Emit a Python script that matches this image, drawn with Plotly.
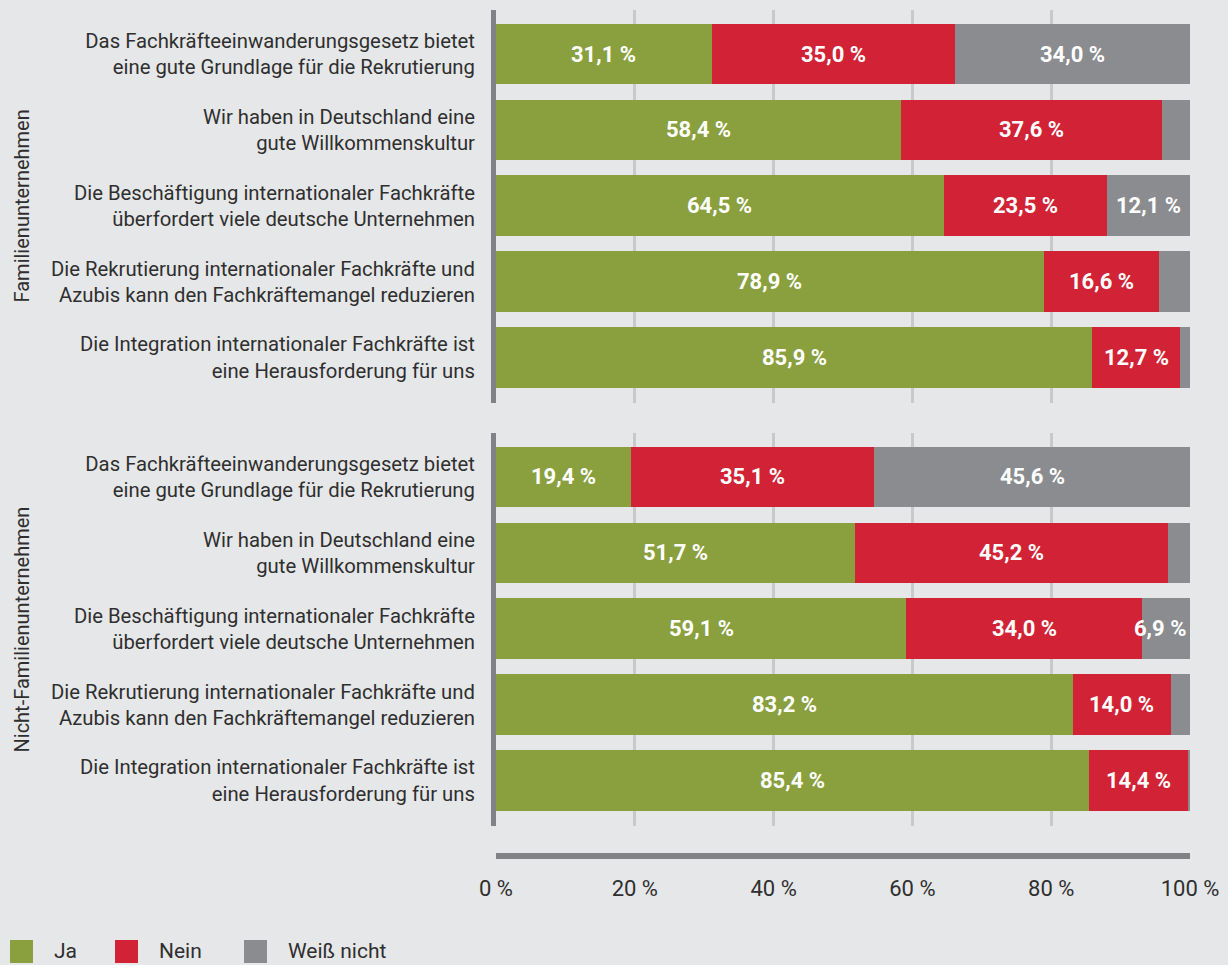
import plotly.graph_objects as go

# Survey statements (two lines each)
statements = [
    "Das Fachkräfteeinwanderungsgesetz bietet<br>eine gute Grundlage für die Rekrutierung",
    "Wir haben in Deutschland eine<br>gute Willkommenskultur",
    "Die Beschäftigung internationaler Fachkräfte<br>überfordert viele deutsche Unternehmen",
    "Die Rekrutierung internationaler Fachkräfte und<br>Azubis kann den Fachkräftemangel reduzieren",
    "Die Integration internationaler Fachkräfte ist<br>eine Herausforderung für uns",
]

groups = ["Familienunternehmen", "Nicht-Familienunternehmen"]

# Shares in percent per group: Ja / Nein / Weiß nicht
ja_family = [31.1, 58.4, 64.5, 78.9, 85.9]
nein_family = [35.0, 37.6, 23.5, 16.6, 12.7]
wn_family = [34.0, 4.0, 12.1, 4.5, 1.4]

ja_nonfamily = [19.4, 51.7, 59.1, 83.2, 85.4]
nein_nonfamily = [35.1, 45.2, 34.0, 14.0, 14.4]
wn_nonfamily = [45.6, 3.1, 6.9, 2.8, 0.2]

answers = ["Ja", "Nein", "Weiß nicht"]
colors = ["#8aa03e", "#d22235", "#8b8c8f"]

x_ticks = [0, 20, 40, 60, 80, 100]
x_ticklabels = ["0 %", "20 %", "40 %", "60 %", "80 %", "100 %"]

BG = "#e6e7e9"
FONT = "Roboto, sans-serif"
TEXT = "#2f2f2f"
MIN_LABEL = 6.0

W, H = 1228, 965
L, R = 496, 38
PW = W - L - R


def py(px):
    """Pixel row (from top) to paper y."""
    return 1 - px / H


def px_x(px):
    """Pixel column (from left) to paper x."""
    return (px - L) / PW


domains = [(py(403), py(10)), (py(826), py(433))]
data = [
    [ja_family, nein_family, wn_family],
    [ja_nonfamily, nein_nonfamily, wn_nonfamily],
]

fig = go.Figure()
annotations = []
shapes = []
cats = list(range(len(statements)))

for g, series in enumerate(data):
    xa = "x" if g == 0 else "x2"
    ya = "y" if g == 0 else "y2"
    for k, vals in enumerate(series):
        fig.add_trace(go.Bar(
            y=cats, x=vals, orientation="h", name=answers[k],
            marker=dict(color=colors[k], line=dict(width=0)),
            xaxis=xa, yaxis=ya, showlegend=False, hoverinfo="skip",
        ))
    # value labels centred in each segment
    for i in cats:
        start = 0.0
        for k, vals in enumerate(series):
            v = vals[i]
            if v >= MIN_LABEL:
                txt = f"{v:.1f}".replace(".", ",") + " %"
                ann = dict(x=start + v / 2, y=i, xref=xa, yref=ya, text=txt,
                           showarrow=False,
                           font=dict(family=FONT, size=22, color="white", weight="bold"))
                if start + v > 99 and v < 10:
                    ann.update(x=100, xanchor="right", xshift=-2)
                annotations.append(ann)
            start += v

axis_common = dict(range=[0, 100], tickvals=x_ticks, showgrid=True,
                   gridcolor="#c8c9cb", gridwidth=3, zeroline=False,
                   fixedrange=True, ticks="")
fig.update_layout(
    xaxis=dict(axis_common, anchor="y", showticklabels=False),
    xaxis2=dict(axis_common, anchor="y2", ticktext=x_ticklabels,
                ticklabelstandoff=47,
                tickfont=dict(family=FONT, size=22, color=TEXT)),
)
for g, ykey in enumerate(["yaxis", "yaxis2"]):
    fig.update_layout(**{ykey: dict(
        domain=list(domains[g]), anchor="x" if g == 0 else "x2",
        range=[4.6, -0.58], tickvals=cats, ticktext=statements,
        tickfont=dict(family=FONT, size=20.3, color=TEXT),
        showline=True, linecolor="#808285", linewidth=5,
        showgrid=False, zeroline=False, ticks="", ticklabelstandoff=12,
        fixedrange=True,
    )})

# rotated group labels on the left, centred on each panel
for g, name in enumerate(groups):
    annotations.append(dict(
        x=px_x(21), xref="paper", y=(domains[g][0] + domains[g][1]) / 2,
        yref="paper", text=name, textangle=-90, showarrow=False,
        font=dict(family=FONT, size=20, color=TEXT),
        xanchor="center", yanchor="middle",
    ))

# bottom scale bar
shapes.append(dict(type="line", xref="x2", yref="paper", x0=0, x1=100,
                   y0=py(856), y1=py(856), line=dict(color="#808285", width=6)))

# legend: coloured squares with answer names
legend_x = [10, 115, 244]
for k, name in enumerate(answers):
    x0 = legend_x[k]
    shapes.append(dict(type="rect", xref="paper", yref="paper",
                       x0=px_x(x0), x1=px_x(x0 + 23), y0=py(963), y1=py(940),
                       fillcolor=colors[k], line=dict(width=0)))
    annotations.append(dict(x=px_x(x0 + 42), y=py(951), xref="paper", yref="paper",
                            text=name, showarrow=False, xanchor="left",
                            yanchor="middle",
                            font=dict(family=FONT, size=21, color=TEXT)))

fig.update_layout(
    width=W, height=H, barmode="stack", bargap=0.2,
    paper_bgcolor=BG, plot_bgcolor=BG,
    margin=dict(l=L, r=R, t=0, b=0),
    font=dict(family=FONT, color=TEXT),
    annotations=annotations, shapes=shapes, showlegend=False,
)

fig.write_html("out.html")
